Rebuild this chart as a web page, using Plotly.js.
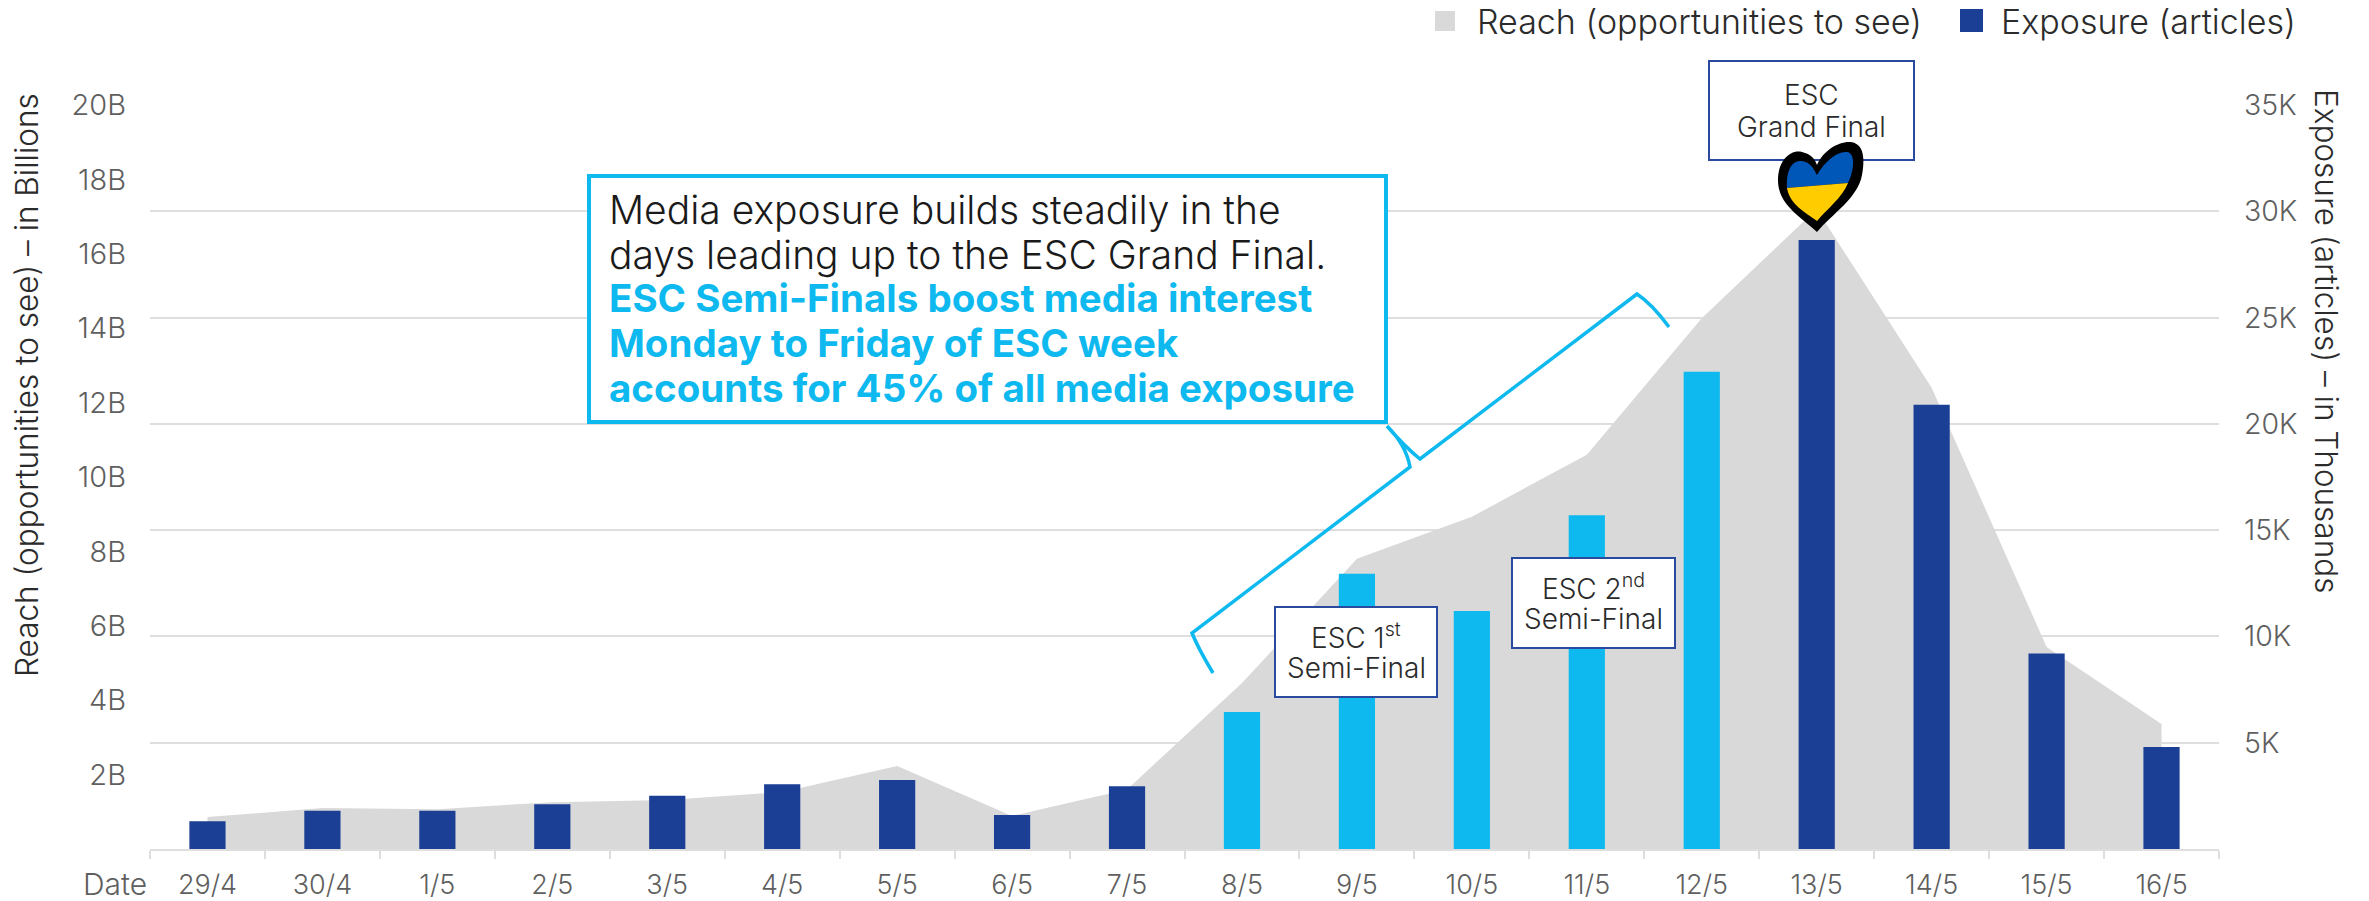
<!DOCTYPE html>
<html><head><meta charset="utf-8">
<script src="https://cdn.plot.ly/plotly-3.0.1.min.js"></script>
<style>html,body{margin:0;padding:0;background:#fff}#c{width:2369px;height:901px}</style>
</head><body><div id="c"></div>
<script>
const dates=['29/4','30/4','1/5','2/5','3/5','4/5','5/5','6/5','7/5','8/5','9/5','10/5','11/5','12/5','13/5','14/5','15/5','16/5'];
const reachBillions=[0.86,1.10,1.07,1.26,1.32,1.53,2.23,0.89,1.6,4.46,7.8,8.93,10.6,14.27,17.2,12.4,5.43,3.36];
const exposureThousands=[1.3,1.8,1.8,2.1,2.5,3.05,3.25,1.6,2.95,6.45,12.95,11.2,15.7,22.45,28.65,20.9,9.2,4.8];
const barColours=['d','d','d','d','d','d','d','d','d','l','l','l','l','l','d','d','d','d'];
const reachTicks=[2,4,6,8,10,12,14,16,18,20];
const reachTickText=['2B','4B','6B','8B','10B','12B','14B','16B','18B','20B'];
const exposureTicks=[5,10,15,20,25,30,35];
const exposureTickText=['5K','10K','15K','20K','25K','30K','35K'];

const DARK='#1B3F95',LIGHT='#0DB9EF',AREA='#D9D9D9',GRID='#DEDEDE',TICK='#5F5F5F',INK='#2B2B2B',BOXLINE='#2A4A9F';
const FONT='Inter, "Noto Sans", sans-serif';
const L=150,R=2219,T=105,B=849,W=R-L,H=B-T;
const px=x=>(x-L)/W, py=y=>(B-y)/H;
const pt=(x,y)=>px(x).toFixed(5)+','+py(y).toFixed(5);
function path(s){return s.replace(/(-?[\d.]+)\s(-?[\d.]+)/g,(m,a,b)=>pt(+a,+b));}
function rect(x0,y0,x1,y1,fill,line,w){return {type:'rect',xref:'paper',yref:'paper',layer:'above',x0:px(x0),x1:px(x1),y0:py(y1),y1:py(y0),fillcolor:fill,line:{color:line,width:w}};}
function shp(d,fill,line,w){return {type:'path',xref:'paper',yref:'paper',layer:'above',path:path(d),fillcolor:fill,line:{color:line,width:w}};}
function note(text,x,y,size,opt){return Object.assign({xref:'paper',yref:'paper',x:px(x),y:py(y),text:text,showarrow:false,xanchor:'center',yanchor:'middle',align:'center',font:{family:FONT,size:size,color:INK,weight:300}},opt||{});}
const left={xanchor:'left'};
const bold=s=>'<b>'+s+'</b>';
const boldFont={family:FONT,size:38.5,color:LIGHT,weight:700};
const lightFont={family:FONT,size:39,color:'#1a1a1a',weight:300};

const shapes=[
 rect(589,176,1386,422,'#fff',LIGHT,4),
 shp('M1213 673 Q1198 648 1192 633 L1410 467 Q1406 445 1387 426 Q1405 447 1420 459 L1637 294 Q1652 304 1669 327','rgba(0,0,0,0)',LIGHT,3.5),
 rect(1275,607,1437,697,'#fff',BOXLINE,2),
 rect(1512,558,1675,648,'#fff',BOXLINE,2),
 rect(1709,61,1914,160,'#fff',BOXLINE,2),
 rect(1435,11,1455,31,AREA,AREA,0),
 rect(1960,9,1983,32,DARK,DARK,0),
 shp('M1817 232 C1800 216 1778 205 1778 180 C1778 160 1791 149 1802 152 C1811 154 1815 159 1817 165 C1823 151 1838 141 1851 142 C1864 144 1865 158 1862 175 C1858 198 1832 214 1817 232 Z','#000','#000',0),
 shp('M1787 188 C1786 170 1792 160 1802 161 C1810 162 1814 169 1817 175 C1824 163 1836 151 1847 152 C1855 153 1855 168 1848 183 Z','#0057B7','#0057B7',0),
 shp('M1787 188 L1848 183 C1842 198 1827 209 1817 221 C1805 212 1790 205 1787 188 Z','#FFCC00','#FFCC00',0)
];
const annotations=[
 note('Media exposure builds steadily in the',607,209,39,{xanchor:'left',font:lightFont}),
 note('days leading up to the ESC Grand Final.',607,254,39,{xanchor:'left',font:lightFont}),
 note(bold('ESC Semi-Finals boost media interest'),607,298,38.5,{xanchor:'left',font:boldFont}),
 note(bold('Monday to Friday of ESC week'),607,343,38.5,{xanchor:'left',font:boldFont}),
 note(bold('accounts for 45% of all media exposure'),607,388,38.5,{xanchor:'left',font:boldFont}),
 note('ESC 1<sup>st</sup>',1356,636,28),
 note('Semi-Final',1356,668,28),
 note('ESC 2<sup>nd</sup>',1593,587,28),
 note('Semi-Final',1593,619,28),
 note('ESC',1811,95,28),
 note('Grand Final',1811,127,28),
 note('Reach (opportunities to see)',1475,21,34,left),
 note('Exposure (articles)',1999,21,34,left),
 note('Date',115,884,30,{font:{family:FONT,size:30,color:TICK,weight:300}}),
 note('Reach (opportunities to see) – in Billions',26,385,31.5,{textangle:-90}),
 note('Exposure (articles) – in Thousands',2327,341,31.5,{textangle:90})
];
const traces=[
 {type:'scatter',mode:'lines',x:dates,y:reachBillions,yaxis:'y',name:'Reach (opportunities to see)',fill:'tozeroy',fillcolor:AREA,line:{color:AREA,width:0},hoverinfo:'x+y'},
 {type:'bar',x:dates,y:exposureThousands,yaxis:'y2',name:'Exposure (articles)',width:0.315,marker:{color:barColours.map(c=>c==='d'?DARK:LIGHT)}}
];
const layout={
 width:2369,height:901,showlegend:false,paper_bgcolor:'#fff',plot_bgcolor:'#fff',
 margin:{l:L,r:2369-R,t:T,b:901-B,pad:0},font:{family:FONT},
 xaxis:{type:'category',categoryorder:'array',categoryarray:dates,range:[-0.5,17.5],tickson:'boundaries',ticks:'outside',ticklen:8,tickwidth:2,tickcolor:GRID,showline:true,linecolor:GRID,linewidth:2,showgrid:false,zeroline:false,tickfont:{family:FONT,size:27,color:TICK,weight:300},ticklabelstandoff:11},
 yaxis:{range:[0,20],tickmode:'array',tickvals:reachTicks,ticktext:reachTickText,showgrid:false,zeroline:false,showline:false,ticks:'',ticklabelstandoff:23,tickfont:{family:FONT,size:29,color:TICK,weight:300},
   minor:{tickmode:'array',tickvals:exposureTicks.map(v=>v/35*20),showgrid:true,gridcolor:GRID,gridwidth:2,ticks:''}},
 yaxis2:{overlaying:'y',side:'right',range:[0,35],tickmode:'array',tickvals:exposureTicks,ticktext:exposureTickText,showgrid:false,zeroline:false,showline:false,ticks:'',ticklabelstandoff:24,tickfont:{family:FONT,size:28.5,color:TICK,weight:300}},
 shapes:shapes,annotations:annotations
};
Plotly.newPlot('c',traces,layout,{displayModeBar:false,responsive:false});
</script></body></html>
